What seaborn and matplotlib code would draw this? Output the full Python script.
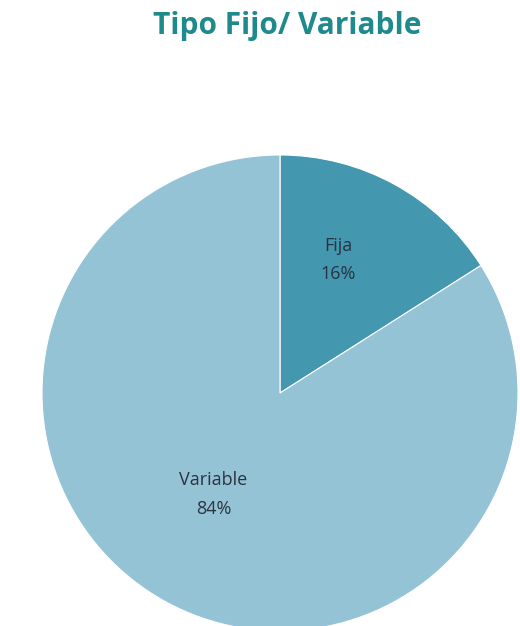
import numpy as np
import matplotlib
matplotlib.use("Agg")
import matplotlib.pyplot as plt
import seaborn as sns

# Data
categories = ["Fija", "Variable"]
shares = [16, 84]
colors = ["#4397AE", "#94C3D5"]
label_dist = [0.61, 0.51]
label_turn = [5, -4.5]  # degrees, nudges labels off the wedge bisector

sns.set_theme(style="white")
plt.rcParams['font.family'] = ['Open Sans', 'DejaVu Sans']

fig = plt.figure(figsize=(5.2, 6.26), dpi=100)
# axes placed so the pie sits like the reference (slightly cut at the bottom)
ax = fig.add_axes([42 / 520, -5 / 626, 476 / 520, 476 / 626])

wedges, _ = ax.pie(shares, colors=colors, startangle=90, counterclock=False,
                   radius=1, wedgeprops=dict(edgecolor="white", linewidth=0.8))
ax.set_xlim(-1, 1)
ax.set_ylim(-1, 1)
ax.set_aspect("equal")
ax.axis("off")

for w, cat, val, d, t in zip(wedges, categories, shares, label_dist, label_turn):
    ang = np.deg2rad((w.theta1 + w.theta2) / 2 + t)
    ax.text(d * np.cos(ang), d * np.sin(ang), f"{cat}\n{val}%",
            ha="center", va="center", fontsize=13, color="#2a3340",
            linespacing=1.75)

fig.text(0.552, 1 - 26 / 626, "Tipo Fijo/ Variable", ha="center", va="center",
         fontsize=21.5, fontweight="bold", color="#1F8A8C")

fig.savefig("out.png", dpi=100)
